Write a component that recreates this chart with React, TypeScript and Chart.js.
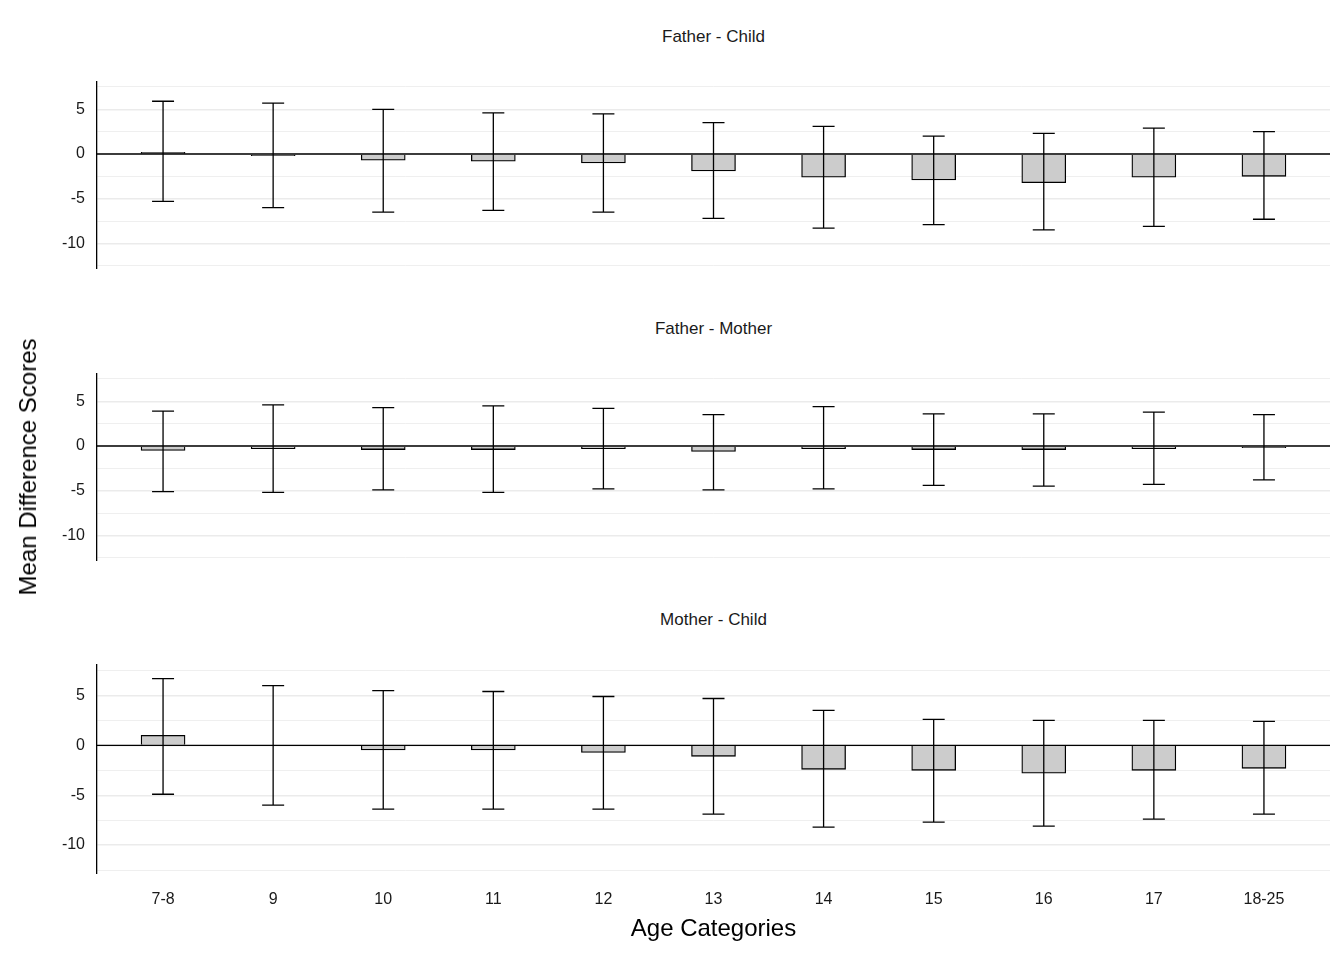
import React, { useEffect, useRef } from 'react';
import Chart from 'chart.js/auto';

const categories = ['7-8', '9', '10', '11', '12', '13', '14', '15', '16', '17', '18-25'];

const fcMean = [0.2, -0.2, -0.7, -0.8, -1.0, -1.9, -2.6, -2.9, -3.2, -2.6, -2.5];
const fcUpper = [5.9, 5.7, 5.0, 4.6, 4.5, 3.5, 3.1, 2.0, 2.3, 2.9, 2.5];
const fcLower = [-5.3, -6.0, -6.5, -6.3, -6.5, -7.2, -8.3, -7.9, -8.5, -8.1, -7.3];

const fmMean = [-0.5, -0.3, -0.4, -0.4, -0.3, -0.6, -0.3, -0.4, -0.4, -0.3, -0.2];
const fmUpper = [3.9, 4.6, 4.3, 4.5, 4.2, 3.5, 4.4, 3.6, 3.6, 3.8, 3.5];
const fmLower = [-5.1, -5.2, -4.9, -5.2, -4.8, -4.9, -4.8, -4.4, -4.5, -4.3, -3.8];

const mcMean = [1.0, 0.0, -0.45, -0.45, -0.7, -1.1, -2.4, -2.5, -2.8, -2.5, -2.3];
const mcUpper = [6.7, 6.0, 5.5, 5.4, 4.9, 4.7, 3.5, 2.6, 2.5, 2.5, 2.4];
const mcLower = [-4.9, -6.0, -6.4, -6.4, -6.4, -6.9, -8.2, -7.7, -8.1, -7.4, -6.9];

const yTicks = [-12.5, -10, -7.5, -5, -2.5, 0, 2.5, 5, 7.5];

const FONT = '"Liberation Sans", Arial, sans-serif';

interface PanelProps {
    title: string;
    mean: number[];
    upper: number[];
    lower: number[];
    top: number;
    showX: boolean;
}

const Panel: React.FC<PanelProps> = ({ title, mean, upper, lower, top, showX }) => {
    const ref = useRef<HTMLCanvasElement>(null);
    const height = showX ? 317 : 230;

    useEffect(() => {
        if (!ref.current) return;
        const ctx = ref.current.getContext('2d');
        if (!ctx) return;

        const errorBars = {
            id: 'errorBars',
            afterDatasetsDraw(chart: any) {
                const c = chart.ctx;
                const xs = chart.scales.x;
                const ys = chart.scales.y;
                c.save();
                c.strokeStyle = '#000';
                c.lineWidth = 1.3;
                c.beginPath();
                c.moveTo(chart.chartArea.left, ys.getPixelForValue(0));
                c.lineTo(chart.chartArea.right, ys.getPixelForValue(0));
                c.stroke();
                upper.forEach((u, i) => {
                    const x = xs.getPixelForValue(i);
                    const yu = ys.getPixelForValue(u);
                    const yl = ys.getPixelForValue(lower[i]);
                    c.beginPath();
                    c.moveTo(x, yu); c.lineTo(x, yl);
                    c.moveTo(x - 11, yu); c.lineTo(x + 11, yu);
                    c.moveTo(x - 11, yl); c.lineTo(x + 11, yl);
                    c.stroke();
                });
                c.restore();
            }
        };

        const chart = new Chart(ctx, {
            type: 'bar',
            data: {
                datasets: [{
                    data: mean.map((v, i) => ({ x: i, y: v })),
                    backgroundColor: '#cccccc',
                    borderColor: '#000',
                    borderWidth: 1.3,
                    barThickness: 44,
                }]
            },
            options: {
                responsive: true,
                maintainAspectRatio: false,
                animation: false,
                layout: { padding: { left: 0, right: 14, top: 0, bottom: 0 } },
                plugins: { legend: { display: false }, tooltip: { enabled: false } },
                scales: {
                    x: {
                        type: 'linear',
                        display: showX,
                        min: -0.6,
                        max: 10.6,
                        offset: false,
                        afterBuildTicks: (s: any) => { s.ticks = categories.map((_, i) => ({ value: i })); },
                        afterFit: (s: any) => { s.height = showX ? 87 : 0; },
                        ticks: {
                            callback: (v: any) => categories[v] ?? '',
                            autoSkip: false,
                            padding: 17,
                            color: '#1a1a1a',
                            font: { family: FONT, size: 16 },
                            maxRotation: 0,
                        },
                        grid: { display: false, drawTicks: false },
                        border: { display: false },
                    },
                    y: {
                        min: -12.8,
                        max: 8.1,
                        afterBuildTicks: (s: any) => { s.ticks = yTicks.map(v => ({ value: v })); },
                        afterFit: (s: any) => { s.width = 97; },
                        ticks: {
                            callback: (v: any) => (v % 5 === 0 ? String(v) : ''),
                            autoSkip: false,
                            padding: 12,
                            color: '#1a1a1a',
                            font: { family: FONT, size: 16 },
                        },
                        grid: {
                            drawTicks: false,
                            color: '#ebebeb',
                            lineWidth: (c: any) => (c.tick && c.tick.value % 5 === 0 ? 1.4 : 0.8),
                        },
                        border: { display: true, color: '#000', width: 1.3 },
                    }
                }
            },
            plugins: [errorBars]
        });

        return () => {
            chart.destroy();
        };
    }, []);

    return (
        <>
            <div style={{ position: 'absolute', top: top - 33, left: 97, width: 1233, textAlign: 'center', font: `17px ${FONT}`, color: '#1a1a1a' }}>{title}</div>
            <div style={{ position: 'absolute', top, left: 0, width: 1344, height }}>
                <canvas ref={ref} />
            </div>
        </>
    );
};

export default function App() {
    return (
        <div style={{ position: 'absolute', top: 0, left: 0, width: 1344, height: 960, background: '#fff', overflow: 'hidden' }}>
            <Panel title="Father - Child" mean={fcMean} upper={fcUpper} lower={fcLower} top={60} showX={false} />
            <Panel title="Father - Mother" mean={fmMean} upper={fmUpper} lower={fmLower} top={352} showX={false} />
            <Panel title="Mother - Child" mean={mcMean} upper={mcUpper} lower={mcLower} top={643} showX={true} />
            <div style={{ position: 'absolute', top: 914, left: 97, width: 1233, textAlign: 'center', font: `24px ${FONT}`, color: '#000' }}>Age Categories</div>
            <div style={{ position: 'absolute', left: 28, top: 467, transform: 'translate(-50%, -50%) rotate(-90deg)', whiteSpace: 'nowrap', font: `24px ${FONT}`, color: '#000' }}>Mean Difference Scores</div>
        </div>
    );
}
